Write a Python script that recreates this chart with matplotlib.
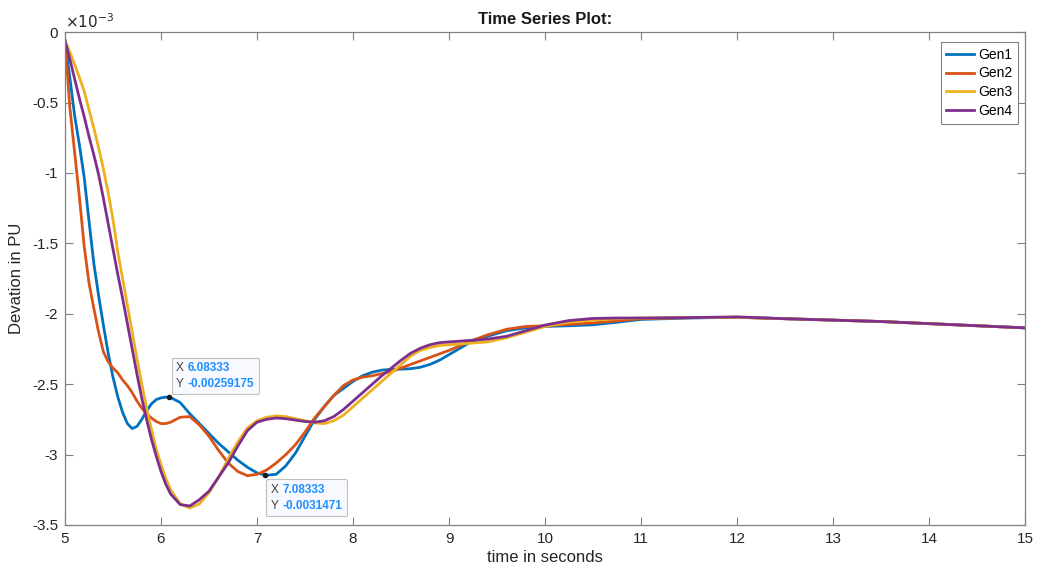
"""
Time series of generator deviations (MATLAB-style figure).
"""
import matplotlib
matplotlib.use("Agg")
import matplotlib.pyplot as plt
import matplotlib.ticker as ticker
from matplotlib.offsetbox import TextArea, HPacker, VPacker, AnnotationBbox

plt.rcParams["font.family"] = ["Liberation Sans", "DejaVu Sans"]
plt.rcParams["axes.unicode_minus"] = False

# time axis, seconds
t = [5.0, 5.05, 5.1, 5.15, 5.2, 5.25, 5.3, 5.35, 5.4, 5.45, 5.5, 5.55, 5.6, 5.65, 5.7,
     5.75, 5.8, 5.85, 5.9, 5.95, 6.0, 6.05, 6.1, 6.2, 6.3, 6.4, 6.5, 6.6, 6.7, 6.8, 6.9, 7.0,
     7.1, 7.2, 7.3, 7.4, 7.5, 7.6, 7.7, 7.8, 7.9, 8.0, 8.1, 8.2, 8.3, 8.4, 8.5, 8.6, 8.7,
     8.8, 8.9, 9.0, 9.2, 9.4, 9.6, 9.8, 10.0, 10.25, 10.5, 10.75, 11.0, 11.5, 12.0, 12.5,
     13.0, 13.5, 14.0, 14.5, 15.0]

# deviation in units of 1e-3 PU
gen1 = [-0.06, -0.32, -0.59, -0.80, -1.03, -1.34, -1.64, -1.87, -2.08, -2.28, -2.45, -2.59,
        -2.70, -2.78, -2.815, -2.80, -2.75, -2.69, -2.64, -2.61, -2.597, -2.592, -2.595,
        -2.63, -2.71, -2.78, -2.85, -2.92, -2.98, -3.04, -3.09, -3.13, -3.147, -3.14, -3.08,
        -2.99, -2.87, -2.75, -2.66, -2.58, -2.53, -2.48, -2.44, -2.415, -2.40, -2.395, -2.393,
        -2.39, -2.38, -2.36, -2.33, -2.29, -2.21, -2.16, -2.12, -2.10, -2.09, -2.085, -2.078,
        -2.06, -2.04, -2.03, -2.025, -2.035, -2.045, -2.055, -2.07, -2.085, -2.10]
gen2 = [-0.06, -0.53, -0.85, -1.17, -1.52, -1.78, -1.96, -2.13, -2.27, -2.34, -2.385, -2.42,
        -2.47, -2.51, -2.56, -2.62, -2.67, -2.71, -2.74, -2.765, -2.78, -2.78, -2.77,
        -2.735, -2.73, -2.79, -2.87, -2.97, -3.06, -3.12, -3.15, -3.14, -3.11, -3.06, -3.00,
        -2.93, -2.84, -2.74, -2.66, -2.58, -2.51, -2.47, -2.45, -2.44, -2.425, -2.41, -2.385,
        -2.36, -2.335, -2.31, -2.285, -2.26, -2.20, -2.15, -2.11, -2.09, -2.085, -2.075,
        -2.065, -2.05, -2.035, -2.028, -2.025, -2.035, -2.045, -2.055, -2.07, -2.085, -2.10]
gen3 = [-0.06, -0.14, -0.23, -0.32, -0.42, -0.55, -0.68, -0.82, -0.97, -1.14, -1.33, -1.56,
        -1.75, -1.94, -2.13, -2.32, -2.50, -2.67, -2.82, -2.96, -3.07, -3.17, -3.25, -3.35,
        -3.38, -3.35, -3.27, -3.16, -3.03, -2.91, -2.81, -2.76, -2.735, -2.725, -2.73,
        -2.745, -2.76, -2.775, -2.78, -2.76, -2.72, -2.66, -2.60, -2.54, -2.48, -2.42, -2.36,
        -2.30, -2.26, -2.24, -2.225, -2.22, -2.21, -2.20, -2.17, -2.13, -2.09, -2.06, -2.045,
        -2.035, -2.03, -2.027, -2.025, -2.035, -2.045, -2.055, -2.07, -2.085, -2.10]
gen4 = [-0.06, -0.19, -0.33, -0.47, -0.60, -0.74, -0.87, -1.01, -1.18, -1.36, -1.54, -1.72,
        -1.89, -2.07, -2.25, -2.43, -2.60, -2.75, -2.89, -3.01, -3.12, -3.21, -3.28, -3.355,
        -3.365, -3.32, -3.26, -3.16, -3.06, -2.94, -2.83, -2.77, -2.75, -2.74, -2.745, -2.755,
        -2.765, -2.77, -2.76, -2.73, -2.68, -2.62, -2.56, -2.50, -2.44, -2.385, -2.33, -2.28,
        -2.245, -2.22, -2.205, -2.20, -2.19, -2.18, -2.16, -2.12, -2.08, -2.048, -2.033,
        -2.03, -2.03, -2.027, -2.022, -2.035, -2.045, -2.055, -2.07, -2.085, -2.10]

series = {"Gen1": gen1, "Gen2": gen2, "Gen3": gen3, "Gen4": gen4}
colors = ["#0072BD", "#D95319", "#EDB120", "#7E2F8E"]

# data tips (time, value in PU)
tips = [(6.08333, -0.00259175), (7.08333, -0.0031471)]

fig = plt.figure(figsize=(10.38, 5.75), dpi=100)
ax = fig.add_axes([0.0626, 0.087, 0.925, 0.857])

for (name, vals), c in zip(series.items(), colors):
    ax.plot(t, vals, color=c, linewidth=2.0, label=name)

ax.set_xlim(5, 15)
ax.set_ylim(-3.5, 0)
ax.set_xticks(range(5, 16))
ax.set_yticks([0, -0.5, -1, -1.5, -2, -2.5, -3, -3.5])
ax.yaxis.set_major_formatter(ticker.FormatStrFormatter("%g"))
ax.tick_params(direction="in", length=6, width=0.8, top=True, right=True,
               labelsize=11, colors="#262626", pad=5)
ax.tick_params(color="#808080")
for sp in ax.spines.values():
    sp.set_color("#808080")
    sp.set_linewidth(0.9)

ax.set_title("Time Series Plot:", fontsize=12, fontweight="bold", color="#1a1a1a", pad=6)
ax.set_xlabel("time in seconds", fontsize=12, color="#262626", labelpad=3)
ax.set_ylabel("Devation in PU", fontsize=12, color="#262626", labelpad=6)
ax.text(0.0, 1.003, r"$\times10^{-3}$", transform=ax.transAxes, ha="left", va="bottom",
        fontsize=11, color="#262626")

leg = ax.legend(loc="upper right", bbox_to_anchor=(0.9927, 0.98), borderaxespad=0,
                fontsize=10, fancybox=False, framealpha=1, edgecolor="#808080",
                handlelength=2.0, handletextpad=0.3, labelspacing=0.35, borderpad=0.4)
leg.get_frame().set_linewidth(0.8)

# data tips
for i, (tx, ty) in enumerate(tips):
    ax.plot(tx, ty * 1e3, "o", color="#1a1a1a", markersize=3, zorder=5)
    rows = []
    for lab, val in (("X", f"{tx:g}"), ("Y", f"{ty:.6g}")):
        rows.append(HPacker(children=[
            TextArea(lab, textprops=dict(color="#404040", fontsize=8.5)),
            TextArea(val, textprops=dict(color="#1e8fff", fontsize=8.5, fontweight="bold")),
        ], align="baseline", pad=0, sep=3))
    box = VPacker(children=rows, align="left", pad=0, sep=3)
    if i == 0:
        xybox, align = (5, 5), (0, 0)
    else:
        xybox, align = (4, -6), (0, 1)
    ab = AnnotationBbox(box, (tx, ty * 1e3), xybox=xybox, boxcoords="offset points",
                        box_alignment=align, frameon=True, pad=0.3,
                        bboxprops=dict(facecolor="#f8f9ff", edgecolor="#c0c0c0",
                                       linewidth=0.8, boxstyle="round,pad=0.3,rounding_size=0.1"))
    ax.add_artist(ab)

fig.savefig("out.png", dpi=100)
plt.close(fig)
